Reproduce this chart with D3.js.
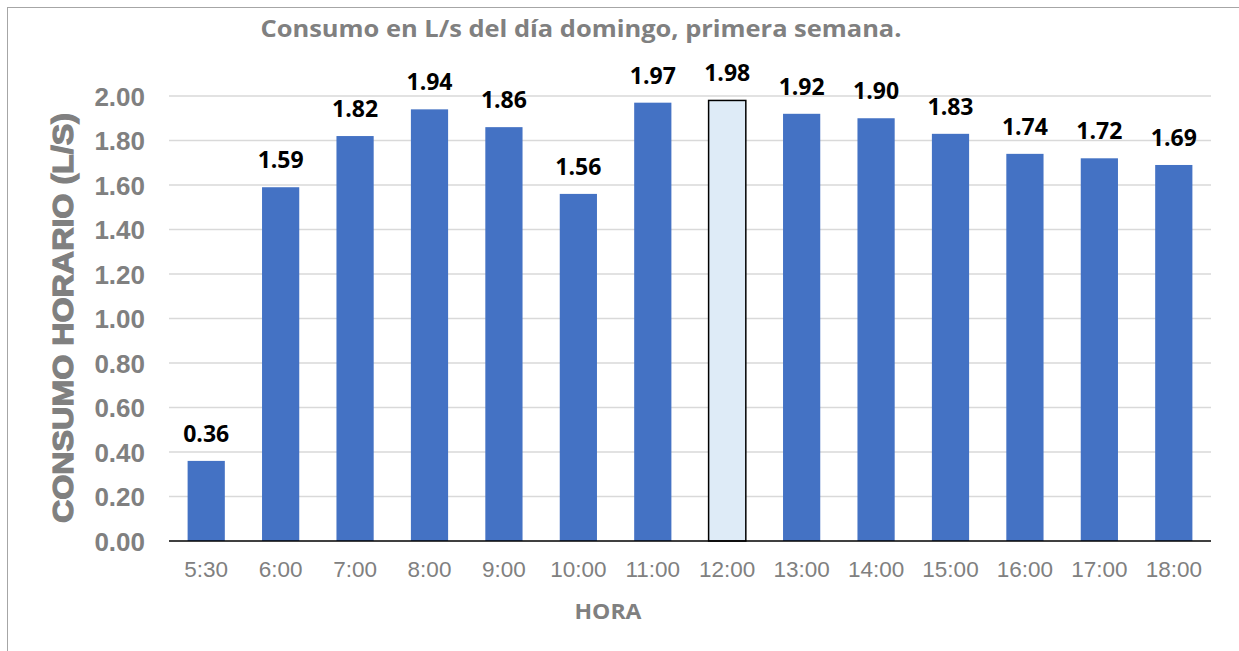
<!DOCTYPE html>
<html>
<head>
<meta charset="utf-8">
<script src="https://cdn.jsdelivr.net/npm/d3@7"></script>
<style>
  html, body { margin: 0; padding: 0; background: #fff; }
  svg { display: block; }
</style>
</head>
<body>
<svg id="chart" width="1239" height="651"></svg>
<script>
// Hourly consumption on Sunday, first week
const hours = ["5:30","6:00","7:00","8:00","9:00","10:00","11:00","12:00","13:00","14:00","15:00","16:00","17:00","18:00"];
const consumption = [0.36,1.59,1.82,1.94,1.86,1.56,1.97,1.98,1.92,1.90,1.83,1.74,1.72,1.69];
const highlighted = ["12:00"];
const yTicks = [0,0.2,0.4,0.6,0.8,1.0,1.2,1.4,1.6,1.8,2.0];

const svg = d3.select("#chart");
const gray = "#808080";

// outer frame
svg.append("rect").attr("x", 7.5).attr("y", 7.5).attr("width", 1240).attr("height", 660)
  .attr("fill", "none").attr("stroke", "#a6a6a6").attr("stroke-width", 1);

const plotLeft = 169, plotRight = 1211, plotTop = 96, plotBottom = 541;
const x = d3.scaleBand().domain(hours).range([plotLeft, plotRight]).paddingInner(0.5).paddingOuter(0.25);
const y = d3.scaleLinear().domain([0, 2]).range([plotBottom, plotTop]);

// gridlines
svg.append("g").selectAll("line").data(yTicks.slice(1)).join("line")
  .attr("x1", plotLeft).attr("x2", plotRight)
  .attr("y1", d => y(d)).attr("y2", d => y(d))
  .attr("stroke", "#d9d9d9").attr("stroke-width", 1.3);

// bars
svg.append("g").selectAll("rect").data(hours).join("rect")
  .attr("x", d => x(d))
  .attr("width", x.bandwidth())
  .attr("y", (d, i) => y(consumption[i]))
  .attr("height", (d, i) => y(0) - y(consumption[i]))
  .attr("fill", d => highlighted.includes(d) ? "#deebf7" : "#4472c4")
  .attr("stroke", d => highlighted.includes(d) ? "#000" : "none")
  .attr("stroke-width", 1.5);

// value labels
svg.append("g").selectAll("text").data(hours).join("text")
  .attr("x", d => x(d) + x.bandwidth() / 2)
  .attr("y", (d, i) => y(consumption[i]) - 19)
  .attr("text-anchor", "middle")
  .attr("font-family", "'Open Sans', 'Liberation Sans', sans-serif")
  .attr("font-weight", "bold").attr("font-size", 23).attr("fill", "#000")
  .text((d, i) => consumption[i].toFixed(2));

// baseline
svg.append("line").attr("x1", plotLeft).attr("x2", plotRight).attr("y1", y(0)).attr("y2", y(0))
  .attr("stroke", "#000").attr("stroke-width", 1.5);

// y axis
const yAxis = svg.append("g").attr("transform", `translate(${plotLeft},0)`)
  .call(d3.axisLeft(y).tickValues(yTicks).tickFormat(d3.format(".2f")).tickSize(0).tickPadding(24));
yAxis.select(".domain").remove();
yAxis.selectAll("text").attr("font-family", "'Liberation Sans', Arial, sans-serif")
  .attr("font-weight", "bold").attr("font-size", 26).attr("fill", gray)
  .attr("dy", "0.36em");

// x axis
const xAxis = svg.append("g").attr("transform", `translate(0,${plotBottom})`)
  .call(d3.axisBottom(x).tickSize(0).tickPadding(0));
xAxis.select(".domain").remove();
xAxis.selectAll("text").attr("font-family", "'Liberation Sans', Arial, sans-serif")
  .attr("font-size", 22.5).attr("fill", gray)
  .attr("dy", null).attr("y", 36);

// titles
svg.append("text").attr("x", 581).attr("y", 37).attr("text-anchor", "middle")
  .attr("font-family", "'Open Sans', sans-serif").attr("font-weight", "bold")
  .attr("font-size", 24).attr("fill", gray)
  .attr("textLength", 641).attr("lengthAdjust", "spacingAndGlyphs")
  .text("Consumo en L/s del día domingo, primera semana.");

svg.append("text").attr("x", 608).attr("y", 619).attr("text-anchor", "middle")
  .attr("font-family", "'Open Sans', sans-serif").attr("font-weight", "bold")
  .attr("font-size", 22).attr("fill", gray)
  .attr("textLength", 67).attr("lengthAdjust", "spacingAndGlyphs")
  .text("HORA");

svg.append("text")
  .attr("transform", `translate(73,318) rotate(-90)`)
  .attr("text-anchor", "middle")
  .attr("font-family", "'Liberation Sans', Arial, sans-serif").attr("font-weight", "900")
  .attr("font-size", 29).attr("fill", gray).attr("stroke", gray).attr("stroke-width", 1.2)
  .attr("textLength", 410).attr("lengthAdjust", "spacingAndGlyphs")
  .text("CONSUMO HORARIO (L/S)");
</script>
</body>
</html>
